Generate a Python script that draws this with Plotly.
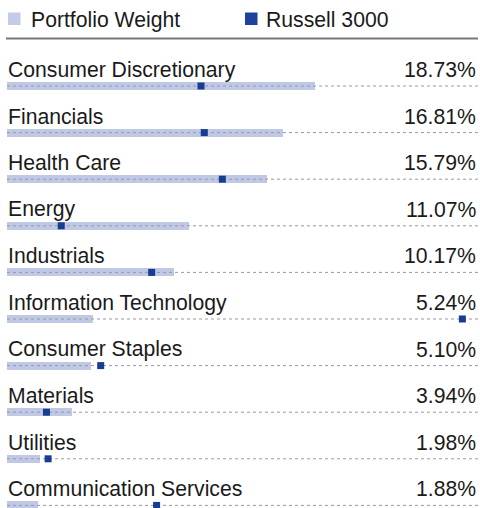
import plotly.graph_objects as go

categories = ["Consumer Discretionary", "Financials", "Health Care", "Energy",
              "Industrials", "Information Technology", "Consumer Staples",
              "Materials", "Utilities", "Communication Services"]
portfolio_weight = [18.73, 16.81, 15.79, 11.07, 10.17, 5.24, 5.10, 3.94, 1.98, 1.88]
russell_3000 = [11.8, 12.0, 13.1, 3.3, 8.8, 27.7, 5.7, 2.4, 2.5, 9.1]
pct_labels = [f"{v:.2f}%" for v in portfolio_weight]

W, H = 480, 508
ROW = 46.6          # pixel spacing between rows
FIRST = 86          # pixel center of first bar
XMAX = 28.65

FONT = "Liberation Sans, Arial, Helvetica, sans-serif"
TXT = "#1a1a1a"
LIGHT = "#bfc8e5"
DARK = "#163d93"
DOT = "#9a9a9a"

n = len(categories)
ypos = list(range(n))

def py(p):  # pixel -> paper y
    return 1 - p / H

def px(p):  # pixel -> paper x (plot area spans 7..478)
    return (p - 7) / (478 - 7)

fig = go.Figure()
fig.add_trace(go.Bar(
    x=portfolio_weight, y=ypos, orientation="h", width=8 / ROW,
    marker=dict(color=LIGHT, line=dict(width=0)), showlegend=False,
    hoverinfo="skip"))

lx, ly = [], []
for i in ypos:
    lx += [0, XMAX, None]
    ly += [i, i, None]
fig.add_trace(go.Scatter(x=lx, y=ly, mode="lines",
                         line=dict(color=DOT, width=1, dash="3px,3px"),
                         showlegend=False, hoverinfo="skip"))

fig.add_trace(go.Scatter(
    x=russell_3000, y=ypos, mode="markers",
    marker=dict(symbol="square", size=7, color=DARK, line=dict(width=0)),
    showlegend=False, hoverinfo="skip", cliponaxis=False))

ann = []
for i, (c, p) in enumerate(zip(categories, pct_labels)):
    yl = i - 16.5 / ROW
    ann.append(dict(x=0, y=yl, xref="paper", yref="y", text=c, showarrow=False,
                    xanchor="left", yanchor="middle", xshift=-1,
                    font=dict(family=FONT, size=21.2, color=TXT)))
    ann.append(dict(x=1, y=yl, xref="paper", yref="y", text=p, showarrow=False,
                    xanchor="right", yanchor="middle", xshift=0,
                    font=dict(family=FONT, size=21.2, color=TXT)))

# legend (custom)
ann.append(dict(x=px(29), y=py(19.5), xref="paper", yref="paper", text="Portfolio Weight",
                showarrow=False, xanchor="left", yanchor="middle",
                font=dict(family=FONT, size=21.2, color=TXT)))
ann.append(dict(x=px(264), y=py(19.5), xref="paper", yref="paper", text="Russell 3000",
                showarrow=False, xanchor="left", yanchor="middle",
                font=dict(family=FONT, size=21.2, color=TXT)))

shapes = [
    dict(type="rect", xref="paper", yref="paper", x0=px(8), x1=px(20.5),
         y0=py(12.5), y1=py(25), fillcolor="#c3cbe8", line=dict(width=0)),
    dict(type="rect", xref="paper", yref="paper", x0=px(245), x1=px(257.5),
         y0=py(12.5), y1=py(25), fillcolor="#1e409e", line=dict(width=0)),
    dict(type="line", xref="paper", yref="paper", x0=px(6), x1=px(478),
         y0=py(38.5), y1=py(38.5), line=dict(color="#777777", width=2)),
]

fig.update_layout(
    width=W, height=H,
    margin=dict(l=7, r=2, t=0, b=0),
    paper_bgcolor="white", plot_bgcolor="white",
    xaxis=dict(range=[0, XMAX], visible=False, fixedrange=True),
    yaxis=dict(range=[(H - FIRST) / ROW, -FIRST / ROW], visible=False, fixedrange=True),
    annotations=ann, shapes=shapes, showlegend=False,
    bargap=0,
)

fig.write_html("out.html", config={"displayModeBar": False, "responsive": False},
               post_script="document.body.style.margin='0';document.body.style.overflow='hidden';")
